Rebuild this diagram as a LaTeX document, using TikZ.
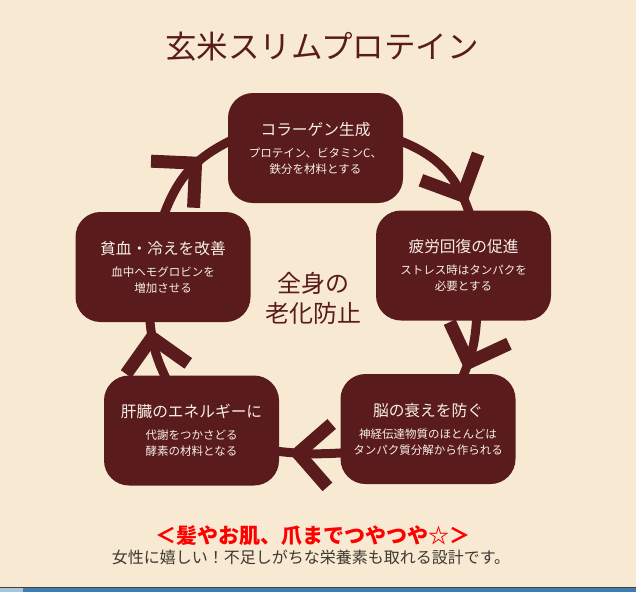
\documentclass[tikz,border=0pt]{standalone}
\usepackage{fontspec}
\setmainfont{Noto Sans CJK JP}
\usetikzlibrary{decorations.markings,backgrounds}
\definecolor{cream}{HTML}{F8EAD2}
\definecolor{maroon}{HTML}{5A1B1D}
\definecolor{boxtext}{HTML}{F7EFE7}
\definecolor{notegray}{HTML}{3E3832}
\definecolor{barblue}{HTML}{3F7DB0}
\pagecolor{cream}

\begin{document}
\begin{tikzpicture}[x=1pt, y=-1pt,
  cyclebox/.style={fill=maroon, rounded corners=25pt, minimum width=175pt, minimum height=110pt,
    inner sep=0pt, align=center, text=boxtext, font=\fontsize{11.5}{16}\selectfont},
  cyclelink/.style={draw=maroon, line width=9pt, shorten <=-5pt, shorten >=-5pt,
    postaction={decorate}, decoration={markings,
      mark=at position #1 with {\draw[maroon, line width=13pt] (-28pt,28pt) -- (0pt,0pt) -- (-28pt,-28pt);}}}]
\useasboundingbox (0,0) rectangle (636,592);
% Draw title
\node[text=maroon, font=\fontsize{31.5}{36}\selectfont] (title) at (322,47) {玄米スリムプロテイン};
% Draw boxes
\node[cyclebox] (collagen) at (315.5,148) {{\fontsize{15.7}{18}\selectfont コラーゲン生成}\\[6pt]プロテイン、ビタミンC、\\鉄分を材料とする};
\node[cyclebox] (fatigue) at (463.5,265.5) {{\fontsize{15.7}{18}\selectfont 疲労回復の促進}\\[6pt]ストレス時はタンパクを\\必要とする};
\node[cyclebox] (brain) at (428,429) {{\fontsize{15.7}{18}\selectfont 脳の衰えを防ぐ}\\[6pt]神経伝達物質のほとんどは\\タンパク質分解から作られる};
\node[cyclebox] (liver) at (191.5,430.5) {{\fontsize{15.7}{18}\selectfont 肝臓のエネルギーに}\\[6pt]代謝をつかさどる\\酵素の材料となる};
\node[cyclebox] (blood) at (163,267) {{\fontsize{15.7}{18}\selectfont 貧血・冷えを改善}\\[6pt]血中ヘモグロビンを\\増加させる};
% Draw centre text
\node[text=maroon, align=center, font=\fontsize{24}{30}\selectfont] (aging) at (313,298) {全身の\\老化防止};
% Draw links
\begin{scope}[on background layer]
\draw[cyclelink=0.6] ([xshift=2pt]blood.north) to[bend left=22] ([yshift=6pt]collagen.west);
\draw[cyclelink=0.84] ([yshift=6pt]collagen.east) to[bend left=25] ([xshift=5pt]fatigue.north);
\draw[cyclelink=0.78] ([xshift=13pt]fatigue.south) to[bend left=10] ([xshift=36pt]brain.north);
\draw[cyclelink=0.69] ([yshift=-24pt]brain.west) to[bend left=5] ([yshift=-21pt]liver.east);
\draw[cyclelink=0.72] ([xshift=-27pt]liver.north) to[bend left=10] ([xshift=-13pt]blood.south);
\end{scope}
% Draw bottom texts
\node[text=red, font=\bfseries\fontsize{21}{24}\selectfont] (catch) at (313,536) {＜髪やお肌、爪までつやつや☆＞};
\node[text=notegray, font=\fontsize{16}{18}\selectfont] (note) at (311,557) {女性に嬉しい！不足しがちな栄養素も取れる設計です。};
% Draw task bar
\fill[black!75] (0,586.5) rectangle (636,588);
\fill[barblue] (0,588) rectangle (636,592);
\fill[barblue!45!white] (0,588) rectangle (23,592);
\end{tikzpicture}
\end{document}
